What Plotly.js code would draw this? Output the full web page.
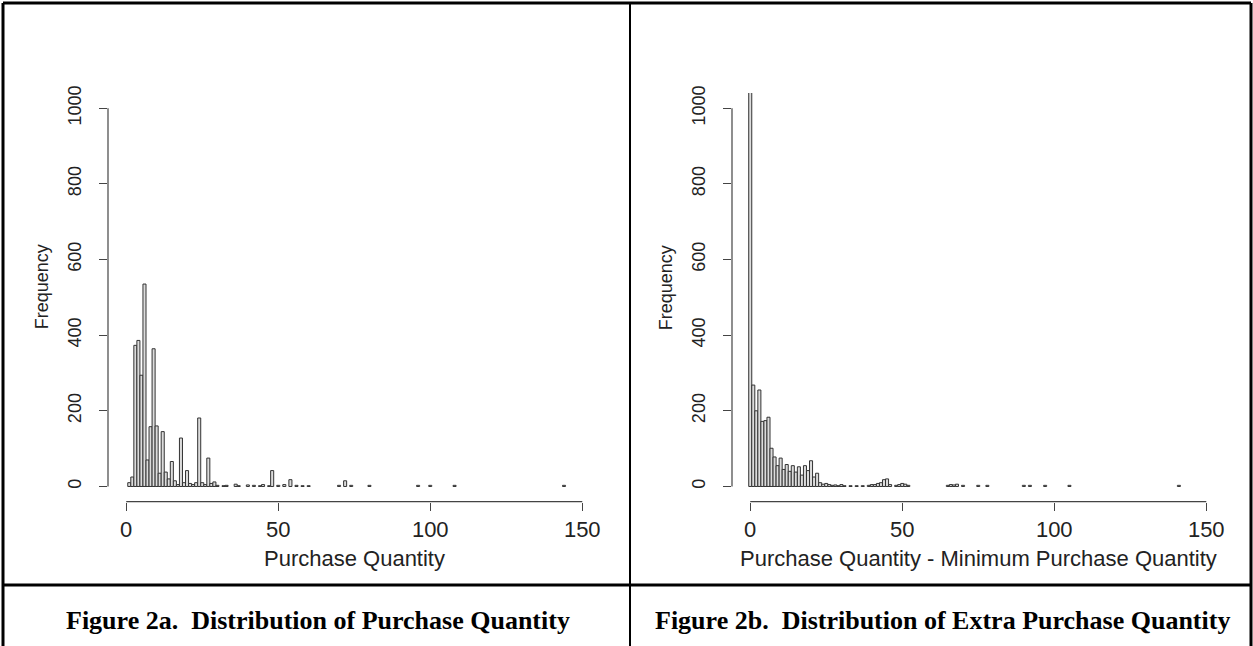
<!DOCTYPE html>
<html>
<head>
<meta charset="utf-8">
<script src="https://cdn.plot.ly/plotly-3.0.1.min.js"></script>
<style>
html,body{margin:0;padding:0;background:#fff;}
#chart{width:1253px;height:646px;}
</style>
</head>
<body>
<div id="chart"></div>
<script>
// ---- Data ----
// Figure 2a: Purchase Quantity (bin centre -> frequency)
const qtyBins   = [1, 2, 3, 4, 5, 6, 7, 8, 9, 10, 11, 12, 13, 14, 15, 16, 17, 18, 19, 20, 21, 22, 23, 24, 25, 26, 27, 28, 29, 30, 32, 33, 36, 37, 40, 42, 44, 45, 47, 48, 50, 52, 54, 56, 58, 60, 70, 72, 74, 80, 96, 100, 108, 144];
const qtyCounts = [10, 25, 373, 386, 294, 535, 70, 158, 364, 160, 35, 145, 38, 20, 66, 15, 5, 128, 10, 42, 8, 5, 10, 181, 10, 5, 75, 8, 12, 3, 2, 3, 6, 2, 4, 3, 2, 5, 2, 42, 3, 5, 18, 3, 2, 2, 3, 15, 3, 3, 3, 3, 3, 3];

// Figure 2b: Purchase Quantity - Minimum Purchase Quantity
const extraBins   = [0, 1, 2, 3, 4, 5, 6, 7, 8, 9, 10, 11, 12, 13, 14, 15, 16, 17, 18, 19, 20, 21, 22, 23, 24, 25, 26, 27, 28, 29, 30, 31, 33, 35, 37, 39, 40, 41, 42, 43, 44, 45, 46, 48, 49, 50, 51, 52, 65, 66, 67, 68, 70, 75, 78, 90, 92, 97, 105, 141];
const extraCounts = [1105, 268, 200, 255, 172, 174, 183, 101, 78, 55, 75, 45, 58, 40, 55, 38, 52, 30, 55, 42, 68, 25, 35, 10, 6, 8, 5, 3, 4, 2, 5, 2, 2, 2, 2, 3, 5, 5, 8, 10, 18, 20, 5, 3, 5, 8, 6, 3, 3, 5, 4, 6, 3, 3, 3, 3, 3, 3, 3, 3];

const xTicks = [0, 50, 100, 150];
const yTicks = [0, 200, 400, 600, 800, 1000];
const xTitleA = 'Purchase Quantity';
const xTitleB = 'Purchase Quantity - Minimum Purchase Quantity';
const yTitle = 'Frequency';
const captionA = 'Figure 2a.\u00a0 Distribution of Purchase Quantity';
const captionB = 'Figure 2b.\u00a0 Distribution of Extra Purchase Quantity';

// ---- Geometry helpers (pixel -> paper) ----
const W = 1253, H = 646;
const px = v => v / W;
const py = v => 1 - v / H;

const plotTop = 93, plotBottom = 501.6;
const leftL = 108, leftR = 600.5, rightL = 732, rightR = 1224.5;

const barStyle = {color: '#dcdcdc', line: {color: '#333333', width: 1}};
const traces = [
  {type: 'bar', x: qtyBins, y: qtyCounts, width: 1, marker: barStyle, xaxis: 'x', yaxis: 'y', hoverinfo: 'x+y'},
  {type: 'bar', x: extraBins, y: extraCounts, width: 1, marker: barStyle, xaxis: 'x2', yaxis: 'y2', hoverinfo: 'x+y'}
];

const sans = 'Liberation Sans, Arial, sans-serif';
const xTickFont = {family: sans, size: 22, color: '#222'};
const yTickFont = {family: sans, size: 18, color: '#222'};
function xAx(dom, anchor) {
  return {domain: dom, anchor: anchor, range: [-6, 156], tickvals: xTicks, ticktext: xTicks.map(String),
    ticks: 'outside', ticklen: 8, tickwidth: 1.2, tickcolor: '#444', showgrid: false, zeroline: false,
    showline: false, tickfont: xTickFont, fixedrange: true};
}
function yAx(dom, anchor) {
  return {domain: dom, anchor: anchor, range: [-40, 1040], tickvals: yTicks, ticktext: yTicks.map(String),
    tickangle: -90, ticks: 'outside', ticklen: 8, tickwidth: 1.2, tickcolor: '#444', showgrid: false,
    zeroline: false, showline: false, tickfont: yTickFont, fixedrange: true, ticklabelstandoff: 11};
}
const yDom = [py(plotBottom), py(plotTop)];

const shapes = [];
// R-style axis lines spanning only the tick range
[['x', 'y', leftL], ['x2', 'y2', rightL]].forEach(([xa, ya, l]) => {
  shapes.push({type: 'line', xref: xa, yref: 'paper', x0: xTicks[0], x1: xTicks[xTicks.length - 1],
    y0: py(plotBottom), y1: py(plotBottom), line: {color: '#444', width: 1.2}});
  shapes.push({type: 'line', xref: 'paper', yref: ya, x0: px(l), x1: px(l),
    y0: yTicks[0], y1: yTicks[yTicks.length - 1], line: {color: '#444', width: 1.2}});
});
// Table borders
const border = {color: '#000', width: 3};
shapes.push({type: 'line', xref: 'paper', yref: 'paper', x0: px(3), x1: px(1251), y0: py(3), y1: py(3), line: border});
shapes.push({type: 'line', xref: 'paper', yref: 'paper', x0: px(3), x1: px(3), y0: py(3), y1: py(660), line: border});
shapes.push({type: 'line', xref: 'paper', yref: 'paper', x0: px(1251), x1: px(1251), y0: py(3), y1: py(660), line: border});
shapes.push({type: 'line', xref: 'paper', yref: 'paper', x0: px(630), x1: px(630), y0: py(3), y1: py(660), line: {color: '#000', width: 2}});
shapes.push({type: 'line', xref: 'paper', yref: 'paper', x0: px(3), x1: px(1251), y0: py(585), y1: py(585), line: border});

const xTitleFont = {family: sans, size: 22, color: '#222'};
const yTitleFont = {family: sans, size: 18, color: '#222'};
const capFont = {family: 'Liberation Serif, Times New Roman, serif', size: 26, color: '#000'};
const annotations = [
  {text: xTitleA, x: px((leftL + leftR) / 2), y: py(558), xref: 'paper', yref: 'paper', showarrow: false, xanchor: 'center', yanchor: 'middle', font: xTitleFont},
  {text: xTitleB, x: px((rightL + rightR) / 2), y: py(558), xref: 'paper', yref: 'paper', showarrow: false, xanchor: 'center', yanchor: 'middle', font: xTitleFont},
  {text: yTitle, x: px(leftL - 66), y: py((plotTop + plotBottom) / 2 - 10), xref: 'paper', yref: 'paper', showarrow: false, textangle: -90, xanchor: 'center', yanchor: 'middle', font: yTitleFont},
  {text: yTitle, x: px(rightL - 66), y: py((plotTop + plotBottom) / 2 - 10), xref: 'paper', yref: 'paper', showarrow: false, textangle: -90, xanchor: 'center', yanchor: 'middle', font: yTitleFont},
  {text: '<b>' + captionA + '</b>', x: px(318), y: py(620), xref: 'paper', yref: 'paper', showarrow: false, xanchor: 'center', yanchor: 'middle', font: capFont},
  {text: '<b>' + captionB + '</b>', x: px(942), y: py(620), xref: 'paper', yref: 'paper', showarrow: false, xanchor: 'center', yanchor: 'middle', font: capFont}
];

const layout = {
  width: W, height: H, margin: {l: 0, r: 0, t: 0, b: 0},
  paper_bgcolor: '#fff', plot_bgcolor: '#fff', showlegend: false, bargap: 0,
  xaxis: xAx([px(leftL), px(leftR)], 'y'),
  yaxis: yAx(yDom, 'x'),
  xaxis2: xAx([px(rightL), px(rightR)], 'y2'),
  yaxis2: yAx(yDom, 'x2'),
  shapes: shapes,
  annotations: annotations
};

Plotly.newPlot('chart', traces, layout, {displayModeBar: false, staticPlot: true});
</script>
</body>
</html>
